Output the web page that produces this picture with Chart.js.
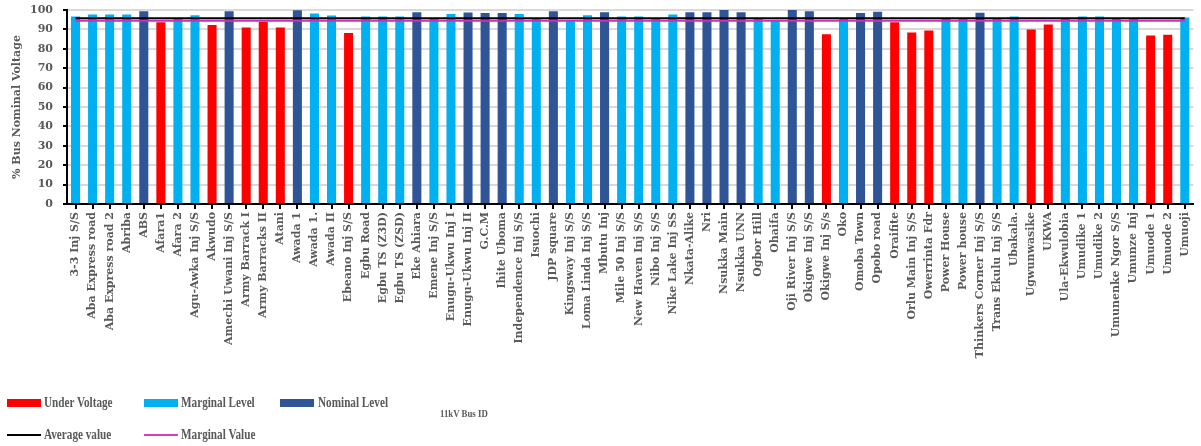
<!DOCTYPE html>
<html>
<head>
<meta charset="utf-8">
<script src="https://cdn.jsdelivr.net/npm/chart.js@4/dist/chart.umd.min.js"></script>
<style>
  html, body { margin: 0; padding: 0; background: #fff; }
  #wrap { position: relative; width: 1201px; height: 446px; }
  .lg { position: absolute; font: bold 14px "Liberation Serif", serif; color: #595959; line-height: 16px;
        white-space: nowrap; transform: scaleX(0.8); transform-origin: left center; }
  .sw { position: absolute; width: 34px; }
</style>
</head>
<body>
<div id="wrap">
  <canvas id="chart" width="1201" height="446"></canvas>
  <div class="sw" style="left:7px;top:399px;height:8px;background:#FF0000"></div>
  <div class="lg" style="left:44px;top:395px">Under Voltage</div>
  <div class="sw" style="left:144px;top:399px;height:8px;background:#00B0F0"></div>
  <div class="lg" style="left:181px;top:395px">Marginal Level</div>
  <div class="sw" style="left:280px;top:399px;height:8px;background:#2F5597"></div>
  <div class="lg" style="left:318px;top:395px">Nominal Level</div>
  <div class="lg" style="left:440px;top:405px;font-size:11px">11kV Bus ID</div>
  <div class="sw" style="left:7px;top:434px;height:2px;background:#000"></div>
  <div class="lg" style="left:44px;top:427px">Average value</div>
  <div class="sw" style="left:144px;top:434px;height:2px;background:#D83CC8"></div>
  <div class="lg" style="left:181px;top:427px">Marginal Value</div>
</div>
<script>
const busNames = [
  '3-3 Inj S/S', 'Aba Express road', 'Aba Express road 2', 'Abriba', 'ABS', 'Afara1', 'Afara 2',
  'Agu-Awka Inj S/S', 'Akwudo', 'Amechi Uwani Inj S/S', 'Army Barrack I', 'Army Barracks II', 'Atani',
  'Awada 1', 'Awada 1.', 'Awada II', 'Ebeano Inj S/S', 'Egbu Road', 'Egbu TS (Z3D)', 'Egbu TS (ZSD)',
  'Eke Ahiara', 'Emene Inj S/S', 'Enugu-Ukwu Inj I', 'Enugu-Ukwu Inj II', 'G.C.M', 'Ihite Uboma',
  'Independence Inj S/S', 'Isuochi', 'JDP square', 'Kingsway Inj S/S', 'Loma Linda Inj S/S', 'Mbutu Inj',
  'Mile 50 Inj S/S', 'New Haven Inj S/S', 'Nibo Inj S/S', 'Nike Lake Inj SS', 'Nkata-Alike', 'Nri',
  'Nsukka Main', 'Nsukka UNN', 'Ogbor Hill', 'Ohaifa', 'Oji River Inj S/S', 'Okigwe Inj S/S',
  'Okigwe Inj S/s', 'Oko', 'Omoba Town', 'Opobo road', 'Oraifite', 'Orlu Main Inj S/S', 'Owerrinta Fdr',
  'Power House', 'Power house', 'Thinkers Corner Inj S/S', 'Trans Ekulu Inj S/S', 'Ubakala.',
  'Ugwunwasike', 'UKWA', 'Ula-Ekwulobia', 'Umudike 1', 'Umudike 2', 'Umunenke Ngor S/S', 'Umunze Inj',
  'Umuode 1', 'Umuode 2', 'Umuoji'
];

const busVoltage = [
  96.6, 97.7, 97.7, 97.7, 99.4, 93.7, 95.4,
  97.3, 92.3, 99.4, 91.0, 93.9, 91.0,
  99.9, 98.2, 97.2, 88.2, 96.6, 96.7, 96.7,
  98.9, 95.4, 98.0, 98.7, 98.4, 98.4,
  98.0, 95.3, 99.4, 94.3, 97.3, 98.9,
  96.6, 96.6, 95.3, 97.7, 98.9, 98.9,
  100.0, 98.9, 95.3, 94.3, 100.4, 99.4,
  87.5, 95.4, 98.4, 99.1, 93.7, 88.4, 89.4,
  95.4, 95.4, 98.6, 95.3, 96.7,
  89.9, 92.5, 95.4, 96.6, 96.6, 95.4, 95.4,
  86.8, 87.2, 96.1
];

// U = under voltage, M = marginal level, N = nominal level
const busLevel = [
  'M', 'M', 'M', 'M', 'N', 'U', 'M',
  'M', 'U', 'N', 'U', 'U', 'U',
  'N', 'M', 'M', 'U', 'M', 'M', 'M',
  'N', 'M', 'M', 'N', 'N', 'N',
  'M', 'M', 'N', 'M', 'M', 'N',
  'M', 'M', 'M', 'M', 'N', 'N',
  'N', 'N', 'M', 'M', 'N', 'N',
  'U', 'M', 'N', 'N', 'U', 'U', 'U',
  'M', 'M', 'N', 'M', 'M',
  'U', 'U', 'M', 'M', 'M', 'M', 'M',
  'U', 'U', 'M'
];

const averageValue = 95.8;
const marginalValue = 94.5;

const levelColors = { U: '#FF0000', M: '#00B0F0', N: '#2F5597' };
const textGray = '#595959';
const serif = '"DejaVu Serif", serif';

new Chart(document.getElementById('chart'), {
    type: 'bar',
    data: {
        labels: busNames,
        datasets: [
            {
                type: 'line',
                label: 'Average value',
                data: busNames.map(() => averageValue),
                borderColor: '#000000',
                borderWidth: 2,
                pointRadius: 0,
                order: 0
            },
            {
                type: 'line',
                label: 'Marginal Value',
                data: busNames.map(() => marginalValue),
                borderColor: '#CC2EC4',
                borderWidth: 2,
                pointRadius: 0,
                order: 1
            },
            {
                label: '% Bus Nominal Voltage',
                data: busVoltage,
                backgroundColor: busLevel.map(l => levelColors[l]),
                categoryPercentage: 1,
                barPercentage: 0.53,
                order: 2
            }
        ]
    },
    options: {
        responsive: false,
        animation: false,
        layout: { padding: 0 },
        plugins: {
            legend: { display: false },
            tooltip: { enabled: false }
        },
        scales: {
            x: {
                grid: {
                    offset: false,
                    drawOnChartArea: false,
                    color: '#000',
                    lineWidth: 2,
                    tickLength: 5
                },
                border: { color: '#000', width: 2 },
                ticks: {
                    autoSkip: false,
                    minRotation: 90,
                    maxRotation: 90,
                    padding: 3,
                    color: textGray,
                    font: { family: serif, size: 11, weight: 'bold' }
                },
                afterFit: (scale) => { scale.height = 242; }
            },
            y: {
                min: 0,
                max: 100,
                grid: {
                    color: '#D9D9D9',
                    lineWidth: 2,
                    tickColor: '#000',
                    tickLength: 4
                },
                border: { color: '#000', width: 2 },
                ticks: {
                    stepSize: 10,
                    autoSkip: false,
                    padding: 10,
                    color: textGray,
                    font: { family: serif, size: 11, weight: 'bold' }
                },
                title: {
                    display: true,
                    text: '% Bus Nominal Voltage',
                    color: textGray,
                    padding: { top: 11, bottom: 0 },
                    font: { family: serif, size: 11, weight: 'bold' }
                },
                afterFit: (scale) => {
                    scale.width = 67;
                    scale.paddingTop = 10;
                    scale.paddingBottom = 0;
                }
            }
        }
    }
});
</script>
</body>
</html>
